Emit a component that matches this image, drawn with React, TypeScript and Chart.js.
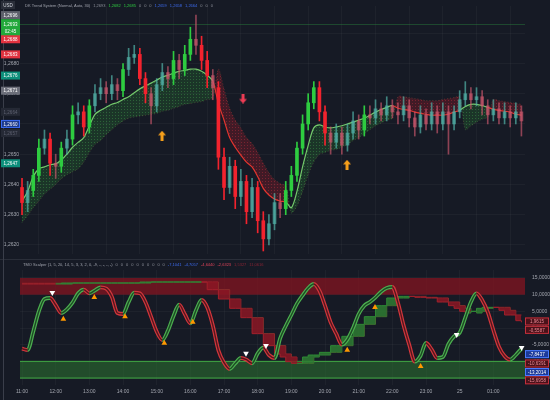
import React, { useEffect, useRef } from 'react';
import { Chart, registerables } from 'chart.js';

Chart.register(...registerables);

const BG = '#161a25';
const FONT = '"Liberation Sans", "DejaVu Sans", sans-serif';
const GRID = 'rgba(255,255,255,0.035)';
const TICK = '#a3a6af';

// ---- time axis ----
const START_HOUR = 11;
const STEP_HOURS = 1 / 6; // 10-minute candles
const X_MIN = 10.94;
const X_MAX = 25.94;
const hourTicks = [11, 12, 13, 14, 15, 16, 17, 18, 19, 20, 21, 22, 23, 24, 25];
const priceTicks = [1.262, 1.263, 1.264, 1.265, 1.266, 1.267, 1.268, 1.269];
const tmoTicks = [15, 10, 5, 0, -5, -10, -15];

// ---- candles ----
const firstOpen = 1.2639;
const closes = [
  1.2634, 1.2638, 1.2643, 1.2652, 1.2655, 1.2647, 1.2646, 1.2652, 1.2655, 1.2663,
  1.2664, 1.2659, 1.2666, 1.2670, 1.2672, 1.2670, 1.2673, 1.2671, 1.2678, 1.2682,
  1.2683, 1.2675, 1.2670, 1.2666, 1.2673, 1.2677, 1.2675, 1.2681, 1.2678, 1.2683,
  1.2688, 1.2686, 1.2681, 1.2676, 1.2672, 1.2649, 1.2639, 1.2646, 1.2636, 1.2641,
  1.2631, 1.2639, 1.2628, 1.2622, 1.2627, 1.2634, 1.2632, 1.2638, 1.2643, 1.2652,
  1.2660, 1.2667, 1.2672, 1.2664, 1.2657, 1.2654, 1.2657, 1.2653, 1.2657, 1.2661,
  1.2658, 1.2663, 1.2662, 1.2665, 1.2663, 1.2666, 1.2664, 1.2663, 1.2666, 1.2662,
  1.2659, 1.2663, 1.2660, 1.2664, 1.2660, 1.2664, 1.2660, 1.2664, 1.2668, 1.2670,
  1.2668, 1.2669, 1.2666, 1.2663, 1.2665, 1.2662, 1.2664, 1.2662, 1.2664, 1.2661,
];
const highs = [
  1.2642, 1.2641, 1.2645, 1.2655, 1.2658, 1.2657, 1.2650, 1.2654, 1.2658, 1.2666,
  1.2667, 1.2666, 1.2668, 1.2673, 1.2675, 1.2674, 1.2676, 1.2675, 1.2680, 1.2685,
  1.2686, 1.2685, 1.2677, 1.2672, 1.2675, 1.2680, 1.2679, 1.2684, 1.2683, 1.2686,
  1.2692, 1.2696, 1.2689, 1.2684, 1.2678, 1.2674, 1.2652, 1.2649, 1.2648, 1.2645,
  1.2643, 1.2642, 1.2641, 1.2631, 1.2630, 1.2637, 1.2637, 1.2641, 1.2646, 1.2654,
  1.2663, 1.2670, 1.2674, 1.2674, 1.2666, 1.2659, 1.2660, 1.2659, 1.2660, 1.2664,
  1.2663, 1.2666, 1.2666, 1.2668, 1.2667, 1.2669, 1.2668, 1.2667, 1.2669, 1.2668,
  1.2664, 1.2666, 1.2665, 1.2667, 1.2666, 1.2667, 1.2666, 1.2666, 1.2671, 1.2674,
  1.2672, 1.2672, 1.2671, 1.2668, 1.2668, 1.2667, 1.2667, 1.2666, 1.2667, 1.2666,
];
const lows = [
  1.2630, 1.2631, 1.2636, 1.2641, 1.2650, 1.2643, 1.2642, 1.2644, 1.2650, 1.2653,
  1.2660, 1.2656, 1.2657, 1.2664, 1.2668, 1.2667, 1.2668, 1.2668, 1.2669, 1.2676,
  1.2680, 1.2673, 1.2667, 1.2660, 1.2664, 1.2671, 1.2672, 1.2673, 1.2675, 1.2676,
  1.2681, 1.2683, 1.2678, 1.2672, 1.2668, 1.2645, 1.2635, 1.2637, 1.2632, 1.2633,
  1.2627, 1.2629, 1.2624, 1.2618, 1.2620, 1.2625, 1.2629, 1.2630, 1.2636, 1.2641,
  1.2650, 1.2658, 1.2665, 1.2661, 1.2653, 1.2650, 1.2652, 1.2650, 1.2651, 1.2655,
  1.2655, 1.2656, 1.2660, 1.2660, 1.2661, 1.2661, 1.2662, 1.2660, 1.2661, 1.2659,
  1.2656, 1.2657, 1.2658, 1.2658, 1.2657, 1.2658, 1.2650, 1.2658, 1.2662, 1.2666,
  1.2665, 1.2666, 1.2663, 1.2660, 1.2661, 1.2660, 1.2660, 1.2659, 1.2660, 1.2656,
];

// ---- DK trend line and its cloud edge ----
const trendLine = [
  1.26345, 1.26377, 1.26426, 1.26452, 1.26458, 1.26465, 1.26468, 1.26481, 1.26500, 1.26523,
  1.26539, 1.26555, 1.26594, 1.26632, 1.26645, 1.26655, 1.26665, 1.26671, 1.26681, 1.26690,
  1.26703, 1.26716, 1.26726, 1.26735, 1.26745, 1.26755, 1.26761, 1.26768, 1.26774, 1.26777,
  1.26781, 1.26781, 1.26774, 1.26761, 1.26742, 1.26668, 1.26613, 1.26555, 1.26523, 1.26497,
  1.26474, 1.26458, 1.26426, 1.26387, 1.26365, 1.26352, 1.26345, 1.26342, 1.26323, 1.26377,
  1.26458, 1.26529, 1.26587, 1.26597, 1.26590, 1.26587, 1.26590, 1.26594, 1.26600, 1.26606,
  1.26613, 1.26619, 1.26629, 1.26639, 1.26648, 1.26655, 1.26661, 1.26652, 1.26648, 1.26645,
  1.26639, 1.26635, 1.26632, 1.26629, 1.26629, 1.26629, 1.26632, 1.26639, 1.26645, 1.26658,
  1.26665, 1.26665, 1.26661, 1.26655, 1.26648, 1.26645, 1.26642, 1.26639, 1.26632, 1.26629,
];
const trendBand = [
  1.26274, 1.26297, 1.26323, 1.26345, 1.26368, 1.26384, 1.26400, 1.26419, 1.26432, 1.26442,
  1.26452, 1.26474, 1.26506, 1.26532, 1.26545, 1.26565, 1.26581, 1.26597, 1.26610, 1.26619,
  1.26623, 1.26626, 1.26629, 1.26632, 1.26635, 1.26642, 1.26645, 1.26652, 1.26658, 1.26665,
  1.26668, 1.26671, 1.26674, 1.26681, 1.26684, 1.26781, 1.26716, 1.26652, 1.26613, 1.26587,
  1.26555, 1.26535, 1.26506, 1.26471, 1.26439, 1.26416, 1.26403, 1.26394, 1.26306, 1.26329,
  1.26377, 1.26432, 1.26474, 1.26500, 1.26506, 1.26513, 1.26516, 1.26523, 1.26532, 1.26545,
  1.26555, 1.26568, 1.26581, 1.26594, 1.26603, 1.26613, 1.26619, 1.26690, 1.26690, 1.26687,
  1.26684, 1.26681, 1.26677, 1.26677, 1.26677, 1.26681, 1.26684, 1.26687, 1.26690, 1.26581,
  1.26594, 1.26606, 1.26616, 1.26623, 1.26681, 1.26677, 1.26674, 1.26671, 1.26668, 1.26665,
];
const buyArrowTimes = [15.158, 20.653];
const buyArrowPrices = [1.26561, 1.26465];
const sellArrowTimes = [17.564];
const sellArrowPrices = [1.26684];
const currentPrice = 1.2693;
const leftBoxPrices = [1.2696, 1.2693, 1.2688, 1.2683, 1.2676, 1.2671, 1.2664, 1.266, 1.2657, 1.2647];
const leftBoxKinds = ['grey', 'current', 'red', 'red', 'teal', 'grey2', 'faded', 'blue', 'faded', 'teal'];
const mainTitle = 'DK Trend System (Normal, Auto, 30)';
const mainHeaderValues = ['1,2693', '1,2682', '1,2685', '0', '0', '0', '1,2659', '1,2658', '1,2664', '0', '0', '0'];
const mainHeaderKinds = ['grey', 'green', 'green', 'grey', 'grey', 'grey', 'blue', 'blue', 'blue', 'grey', 'grey', 'grey'];

// ---- TMO scalper ----
const tmoFast = [
  -6.2, -6.6, -1.1, 5.0, 8.7, 9.0, 6.9, 4.5, 5.6, 7.6,
  10.4, 11.5, 10.4, 11.3, 12.2, 11.8, 9.4, 4.5, 4.2, 7.8,
  10.6, 10.4, 7.8, 3.4, -1.1, -3.6, -0.8, 3.6, 7.0, 4.2,
  1.4, 5.3, 8.4, 6.2, 0.8, -6.7, -10.4, -12.3, -10.6, -9.0,
  -9.5, -10.6, -7.6, -5.9, -8.1, -9.0, -3.1, 0.6, 3.9, 7.3,
  9.8, 12.0, 13.2, 11.2, 6.7, 1.7, -1.7, -5.0, -3.4, 0.0,
  4.2, 6.7, 7.8, 9.2, 10.9, 12.0, 12.3, 7.6, 0.8, -5.0,
  -10.1, -8.4, -4.5, -6.4, -9.0, -8.7, -4.8, -2.5, -1.4, 3.1,
  7.8, 10.4, 8.4, 4.8, -0.6, -5.6, -8.4, -9.5, -8.1, -6.2,
];
const tmoSlow = [
  13.2, 13.2, 13.2, 13.2, 13.2, 13.2, 13.2, 13.5, 13.5, 13.5,
  13.5, 13.5, 13.5, 13.5, 13.5, 13.5, 13.5, 13.5, 13.5, 13.5,
  13.5, 13.8, 13.8, 13.8, 13.8, 13.8, 13.8, 13.8, 13.8, 13.8,
  13.8, 13.8, 13.8, 11.5, 11.5, 8.7, 8.7, 5.9, 5.9, 3.1,
  3.1, -1.7, -1.7, -5.3, -5.3, -7.8, -8.7, -10.1, -10.6, -10.6,
  -8.7, -8.1, -8.1, -7.3, -7.3, -5.3, -5.3, -2.5, -2.5, 1.1,
  1.1, 3.4, 3.4, 6.7, 6.7, 9.0, 9.0, 9.5, 9.5, 9.5,
  9.2, 9.2, 9.0, 9.0, 7.8, 7.8, 6.7, 5.9, 5.0, 4.5,
  5.0, 5.9, 6.2, 6.2, 6.2, 5.3, 3.9, 3.9, 2.2, 1.7,
];
const tmoSlowLag = [
  13.4, 13.4, 13.4, 13.4, 13.4, 13.4, 13.4, 13.2, 13.2, 13.5,
  13.5, 13.5, 13.5, 13.5, 13.5, 13.5, 13.5, 13.5, 13.5, 13.5,
  13.5, 13.5, 13.5, 13.8, 13.8, 13.8, 13.8, 13.8, 13.8, 13.8,
  13.8, 13.8, 13.8, 13.8, 13.8, 11.5, 11.5, 8.7, 8.7, 5.9,
  5.9, 3.1, 3.1, -1.7, -1.7, -5.3, -5.3, -7.8, -8.7, -10.1,
  -10.6, -10.6, -8.7, -8.1, -8.1, -7.3, -7.3, -5.3, -5.3, -2.5,
  -2.5, 1.1, 1.1, 3.4, 3.4, 6.7, 6.7, 9.0, 9.0, 9.5,
  9.5, 9.5, 9.2, 9.2, 9.0, 9.0, 7.8, 7.8, 6.7, 5.9,
  5.0, 4.5, 5.0, 5.9, 6.2, 6.2, 6.2, 5.3, 3.9, 3.9,
];
const sellSignalTimes = [11.9, 17.653, 18.247, 23.91, 25.84];
const sellSignalValues = [10.6, -7.6, -5.3, -2.0, -5.9];
const buySignalTimes = [12.227, 13.147, 14.059, 15.226, 16.07, 20.66, 21.484, 22.84];
const buySignalValues = [2.7, 9.2, 3.4, -4.5, 1.8, -6.6, 6.2, -11.5];
const obZone = [10, 15];
const osZone = [-15, -10];
const tmoBoxValues = [1.9615, -0.5587, -7.8437, -10.6391, -13.2014, -15.6958];
const tmoBoxKinds = ['red', 'red', 'blue', 'red', 'blue', 'red'];
const tmoTitle = 'TMO Scalper (1, 5, 20, 14, 5, 3, 3, 2, 0, -9, -, -, -, -)';
const tmoHeaderValues = ['0', '0', '0', '0', '0', '0', '0', '0', '0', '0', '-7,1041', '-4,7057', '-4,6440', '-2,6323', '1,5327', '11,0616'];
const tmoHeaderKinds = ['grey', 'grey', 'grey', 'grey', 'grey', 'grey', 'grey', 'grey', 'grey', 'grey', 'blue', 'blue', 'red', 'red', 'dred', 'dred'];

const fmt = (v: number, d = 4) => v.toFixed(d).replace('.', ',');
const headerColors: Record<string, string> = {
  grey: '#8d909a', green: '#2ecc40', blue: '#3d6cf0', red: '#e0435a', dred: '#8a2434',
};

function arrowImage(color: string, up: boolean) {
  const c = document.createElement('canvas');
  c.width = 8; c.height = 10;
  const g = c.getContext('2d')!;
  g.fillStyle = color;
  g.beginPath();
  const pts = [[4, 0], [8, 4.5], [5.5, 4.5], [5.5, 10], [2.5, 10], [2.5, 4.5], [0, 4.5]];
  pts.forEach(([x, y], i) => {
    const yy = up ? y : 10 - y;
    if (i === 0) g.moveTo(x, yy); else g.lineTo(x, yy);
  });
  g.closePath();
  g.fill();
  return c;
}

function makePattern(ctx: CanvasRenderingContext2D, bg: string, dot: string) {
  const c = document.createElement('canvas');
  c.width = 3; c.height = 3;
  const g = c.getContext('2d')!;
  g.fillStyle = bg; g.fillRect(0, 0, 3, 3);
  g.fillStyle = dot; g.fillRect(1, 1, 1, 1);
  return ctx.createPattern(c, 'repeat');
}

function drawHeader(ctx: CanvasRenderingContext2D, x: number, y: number, title: string, vals: string[], kinds: string[]) {
  ctx.save();
  ctx.font = `4px ${FONT}`;
  ctx.textBaseline = 'middle';
  ctx.textAlign = 'left';
  ctx.fillStyle = '#a0a3ad';
  ctx.fillText(title, x, y);
  let cx = x + ctx.measureText(title).width + 3;
  vals.forEach((v, i) => {
    ctx.fillStyle = headerColors[kinds[i]];
    ctx.fillText(v, cx, y);
    cx += ctx.measureText(v).width + 3;
  });
  ctx.restore();
}

export default function App() {
  const topRef = useRef<HTMLCanvasElement>(null);
  const botRef = useRef<HTMLCanvasElement>(null);

  useEffect(() => {
    const top = topRef.current!;
    const bot = botRef.current!;
    Chart.defaults.font.family = FONT;
    const tctx = top.getContext('2d')!;

    const times = closes.map((_, i) => START_HOUR + i * STEP_HOURS);
    const opens = closes.map((c, i) => (i === 0 ? firstOpen : closes[i - 1]));
    const candleColors = closes.map((c, i) => {
      const up = c >= opens[i];
      const strong = Math.abs(c - opens[i]) >= 0.00049;
      if (up) return strong && c > trendLine[i] ? '#2ecc40' : 'rgba(80,175,165,0.72)';
      return strong ? '#f2232e' : 'rgba(205,88,110,0.66)';
    });
    const greenPat = makePattern(tctx, 'rgba(40,115,50,0.3)', 'rgba(70,170,80,0.4)');
    const redPat = makePattern(tctx, 'rgba(140,28,42,0.36)', 'rgba(200,50,65,0.42)');
    const isUp = (i: number) => trendLine[i] >= trendBand[i];

    const mainDecor = {
      id: 'mainDecor',
      beforeDatasetsDraw(chart: any) {
        const { ctx, chartArea, scales } = chart;
        const py = Math.round(scales.y.getPixelForValue(currentPrice)) + 0.5;
        ctx.save();
        ctx.strokeStyle = 'rgba(46,160,67,0.35)';
        ctx.lineWidth = 1;
        ctx.beginPath();
        ctx.moveTo(chartArea.left, py);
        ctx.lineTo(chartArea.right, py);
        ctx.stroke();
        ctx.restore();
      },
      afterDraw(chart: any) {
        const { ctx, scales } = chart;
        ctx.save();
        ctx.fillStyle = '#2a2e39';
        ctx.fillRect(0, 259, 550, 1);
        ctx.fillStyle = '#3a3e4a';
        ctx.fillRect(3, 0, 1, 260);
        ctx.fillStyle = '#2a2e39';
        ctx.fillRect(1, 1, 14, 8);
        ctx.font = `4.5px ${FONT}`;
        ctx.textAlign = 'center';
        ctx.textBaseline = 'middle';
        ctx.fillStyle = '#d1d4dc';
        ctx.fillText('USD', 8, 5.5);
        const fills: Record<string, string> = {
          grey: '#5d606b', current: '#22a83a', red: '#e0323f', teal: '#0d8f7b',
          grey2: '#6b6e79', faded: '#252935', blue: '#1d3a8c',
        };
        leftBoxPrices.forEach((p, i) => {
          const kind = leftBoxKinds[i];
          const y = scales.y.getPixelForValue(p);
          const h = kind === 'current' ? 17 : 8;
          const y0 = kind === 'current' ? y - 5 : y - 4;
          ctx.fillStyle = fills[kind];
          ctx.fillRect(1, y0, 19, h);
          if (kind === 'blue') {
            ctx.strokeStyle = '#3a6bf0';
            ctx.lineWidth = 1;
            ctx.strokeRect(1.5, y0 + 0.5, 18, h - 1);
          }
          ctx.fillStyle = kind === 'faded' ? '#5d6070' : '#ffffff';
          ctx.font = `4.5px ${FONT}`;
          ctx.fillText(fmt(p), 10.5, y + 0.5);
          if (kind === 'current') ctx.fillText('02:45', 10.5, y + 7.5);
        });
        ctx.restore();
        drawHeader(ctx, 25, 6, mainTitle, mainHeaderValues, mainHeaderKinds);
      },
    };

    const c1 = new Chart(top, {
      type: 'bar',
      data: {
        datasets: [
          {
            type: 'bar',
            label: 'wicks',
            data: times.map((t, i) => ({ x: t, y: [lows[i], highs[i]] })),
            backgroundColor: candleColors,
            barThickness: 1,
            grouped: false,
            order: 2,
          } as any,
          {
            type: 'bar',
            label: 'bodies',
            data: times.map((t, i) => ({ x: t, y: [opens[i], closes[i]] })),
            backgroundColor: candleColors,
            barThickness: 3,
            minBarLength: 1,
            grouped: false,
            order: 1,
          } as any,
          {
            type: 'line',
            label: 'trend',
            data: times.map((t, i) => ({ x: t, y: trendLine[i] })),
            borderWidth: 1.2,
            pointRadius: 0,
            tension: 0.3,
            segment: { borderColor: (ctx: any) => (isUp(ctx.p1DataIndex) ? '#74c96c' : '#e3352f') },
            fill: { target: 3, above: greenPat, below: redPat },
            order: 4,
          } as any,
          {
            type: 'line',
            label: 'band',
            data: times.map((t, i) => ({ x: t, y: trendBand[i] })),
            borderWidth: 1,
            borderDash: [1, 2],
            pointRadius: 0,
            tension: 0.3,
            segment: { borderColor: (ctx: any) => (isUp(ctx.p1DataIndex) ? 'rgba(70,160,80,0.45)' : 'rgba(200,50,65,0.45)') },
            fill: false,
            order: 5,
          } as any,
          {
            type: 'line',
            label: 'buy',
            data: buyArrowTimes.map((t, i) => ({ x: t, y: buyArrowPrices[i] })),
            showLine: false,
            pointStyle: arrowImage('#f7a01b', true),
            pointRadius: 5,
            order: 0,
          } as any,
          {
            type: 'line',
            label: 'sell',
            data: sellArrowTimes.map((t, i) => ({ x: t, y: sellArrowPrices[i] })),
            showLine: false,
            pointStyle: arrowImage('#ee3d55', false),
            pointRadius: 5,
            order: 0,
          } as any,
        ],
      },
      options: {
        responsive: false,
        animation: false,
        devicePixelRatio: 1,
        events: [],
        layout: { padding: { top: 5, right: 25, bottom: 2, left: 0 } },
        plugins: { legend: { display: false }, tooltip: { enabled: false } },
        scales: {
          x: {
            type: 'linear',
            min: X_MIN,
            max: X_MAX,
            offset: false,
            grid: { color: GRID, drawTicks: false },
            border: { display: false },
            ticks: { display: false },
            afterBuildTicks: (s: any) => { s.ticks = hourTicks.map((v) => ({ value: v })); },
            afterFit: (s: any) => { s.height = 0; },
          },
          y: {
            position: 'left',
            min: 1.2617,
            max: 1.2699,
            grid: { color: GRID, drawTicks: false },
            border: { display: false },
            ticks: { color: TICK, font: { size: 5 }, padding: 1, callback: (v: any) => fmt(Number(v)) },
            afterBuildTicks: (s: any) => { s.ticks = priceTicks.map((v) => ({ value: v })); },
            afterFit: (s: any) => { s.width = 20; },
          },
        },
      } as any,
      plugins: [mainDecor],
    });

    const tmoDecor = {
      id: 'tmoDecor',
      beforeDatasetsDraw(chart: any) {
        const { ctx, chartArea, scales } = chart;
        const y = scales.y;
        const l = chartArea.left;
        const w = chartArea.right - chartArea.left;
        ctx.save();
        const rTop = y.getPixelForValue(obZone[1]);
        const rBot = y.getPixelForValue(obZone[0]);
        ctx.fillStyle = 'rgba(128,20,32,0.78)';
        ctx.fillRect(l, rTop, w, rBot - rTop);
        const gTop = y.getPixelForValue(osZone[1]);
        const gBot = y.getPixelForValue(osZone[0]);
        ctx.fillStyle = 'rgba(46,125,50,0.5)';
        ctx.fillRect(l, gTop, w, gBot - gTop);
        ctx.fillStyle = '#3c9a40';
        ctx.fillRect(l, gTop - 0.5, w, 1.2);
        ctx.fillRect(l, gBot - 0.5, w, 1.2);
        ctx.restore();
      },
      afterDraw(chart: any) {
        const { ctx, scales } = chart;
        ctx.save();
        ctx.fillStyle = '#3a3e4a';
        ctx.fillRect(3, 0, 1, 140);
        const styles: Record<string, [string, string, string]> = {
          red: ['#4a121a', '#c2303c', '#f08a96'],
          blue: ['#1c3a9a', '#4a7bff', '#ffffff'],
        };
        ctx.font = `4.5px ${FONT}`;
        ctx.textAlign = 'center';
        ctx.textBaseline = 'middle';
        tmoBoxValues.forEach((v, i) => {
          const [f, b, t] = styles[tmoBoxKinds[i]];
          const y = scales.y.getPixelForValue(v);
          ctx.fillStyle = f;
          ctx.fillRect(525, y - 4, 24, 8);
          ctx.strokeStyle = b;
          ctx.lineWidth = 1;
          ctx.strokeRect(525.5, y - 3.5, 23, 7);
          ctx.fillStyle = t;
          ctx.fillText(fmt(v), 537, y + 0.5);
        });
        ctx.restore();
        drawHeader(ctx, 23, 5, tmoTitle, tmoHeaderValues, tmoHeaderKinds);
      },
    };

    const rising = (arr: number[]) => (ctx: any) => arr[ctx.p1DataIndex] >= arr[ctx.p0DataIndex];
    const fastUp = rising(tmoFast);
    const slowUp = (ctx: any) => tmoSlow[ctx.p1DataIndex] >= tmoSlowLag[ctx.p1DataIndex];

    const c2 = new Chart(bot, {
      type: 'line',
      data: {
        datasets: [
          {
            label: 'slow',
            data: times.map((t, i) => ({ x: t, y: tmoSlow[i] })),
            stepped: true,
            borderWidth: 1,
            pointRadius: 0,
            segment: { borderColor: (c: any) => (slowUp(c) ? '#2f8a36' : '#a3202c') },
            fill: { target: 1, above: 'rgba(46,125,50,0.85)', below: 'rgba(140,24,36,0.85)' },
            order: 5,
          },
          {
            label: 'slowLag',
            data: times.map((t, i) => ({ x: t, y: tmoSlowLag[i] })),
            stepped: true,
            borderWidth: 1,
            pointRadius: 0,
            segment: { borderColor: (c: any) => (slowUp(c) ? '#2f8a36' : '#a3202c') },
            fill: false,
            order: 6,
          },
          {
            label: 'fastOuter',
            data: times.map((t, i) => ({ x: t, y: tmoFast[i] })),
            borderWidth: 3.8,
            pointRadius: 0,
            cubicInterpolationMode: 'monotone',
            segment: { borderColor: (c: any) => (fastUp(c) ? '#4caf50' : '#d2363c') },
            fill: false,
            order: 3,
          },
          {
            label: 'fastInner',
            data: times.map((t, i) => ({ x: t, y: tmoFast[i] })),
            borderWidth: 1.4,
            pointRadius: 0,
            cubicInterpolationMode: 'monotone',
            segment: { borderColor: (c: any) => (fastUp(c) ? '#1d4a24' : '#55161d') },
            fill: false,
            order: 2,
          },
          {
            label: 'sellSig',
            data: sellSignalTimes.map((t, i) => ({ x: t, y: sellSignalValues[i] })),
            showLine: false,
            pointStyle: 'triangle',
            rotation: 180,
            pointRadius: 3.3,
            backgroundColor: '#ffffff',
            borderColor: '#ffffff',
            borderWidth: 0,
            order: 0,
          },
          {
            label: 'buySig',
            data: buySignalTimes.map((t, i) => ({ x: t, y: buySignalValues[i] })),
            showLine: false,
            pointStyle: 'triangle',
            pointRadius: 3.3,
            backgroundColor: '#ff9800',
            borderColor: '#ff9800',
            borderWidth: 0,
            order: 0,
          },
        ] as any,
      },
      options: {
        responsive: false,
        animation: false,
        devicePixelRatio: 1,
        events: [],
        layout: { padding: { top: 2, right: 0, bottom: 0, left: 20 } },
        plugins: { legend: { display: false }, tooltip: { enabled: false } },
        scales: {
          x: {
            type: 'linear',
            min: X_MIN,
            max: X_MAX,
            grid: { color: GRID, drawTicks: false },
            border: { display: false },
            ticks: {
              color: TICK,
              font: { size: 5 },
              padding: 4,
              maxRotation: 0,
              callback: (v: any) => (v === 24 ? '25' : String(v % 24).padStart(2, '0') + ':00'),
            },
            afterBuildTicks: (s: any) => { s.ticks = hourTicks.map((v) => ({ value: v })); },
            afterFit: (s: any) => { s.height = 15; },
          },
          y: {
            position: 'right',
            min: -17.1,
            max: 17.4,
            grid: { color: GRID, drawTicks: false },
            border: { display: false },
            ticks: { color: TICK, font: { size: 5 }, padding: 7, callback: (v: any) => fmt(Number(v)) },
            afterBuildTicks: (s: any) => { s.ticks = tmoTicks.map((v) => ({ value: v })); },
            afterFit: (s: any) => { s.width = 25; },
          },
        },
      } as any,
      plugins: [tmoDecor],
    });

    return () => {
      c1.destroy();
      c2.destroy();
    };
  }, []);

  return (
    <div style={{ position: 'fixed', left: 0, top: 0, width: 550, height: 400, background: BG, overflow: 'hidden' }}>
      <canvas ref={topRef} width={550} height={260} style={{ position: 'absolute', left: 0, top: 0, width: 550, height: 260 }} />
      <canvas ref={botRef} width={550} height={140} style={{ position: 'absolute', left: 0, top: 260, width: 550, height: 140 }} />
    </div>
  );
}
